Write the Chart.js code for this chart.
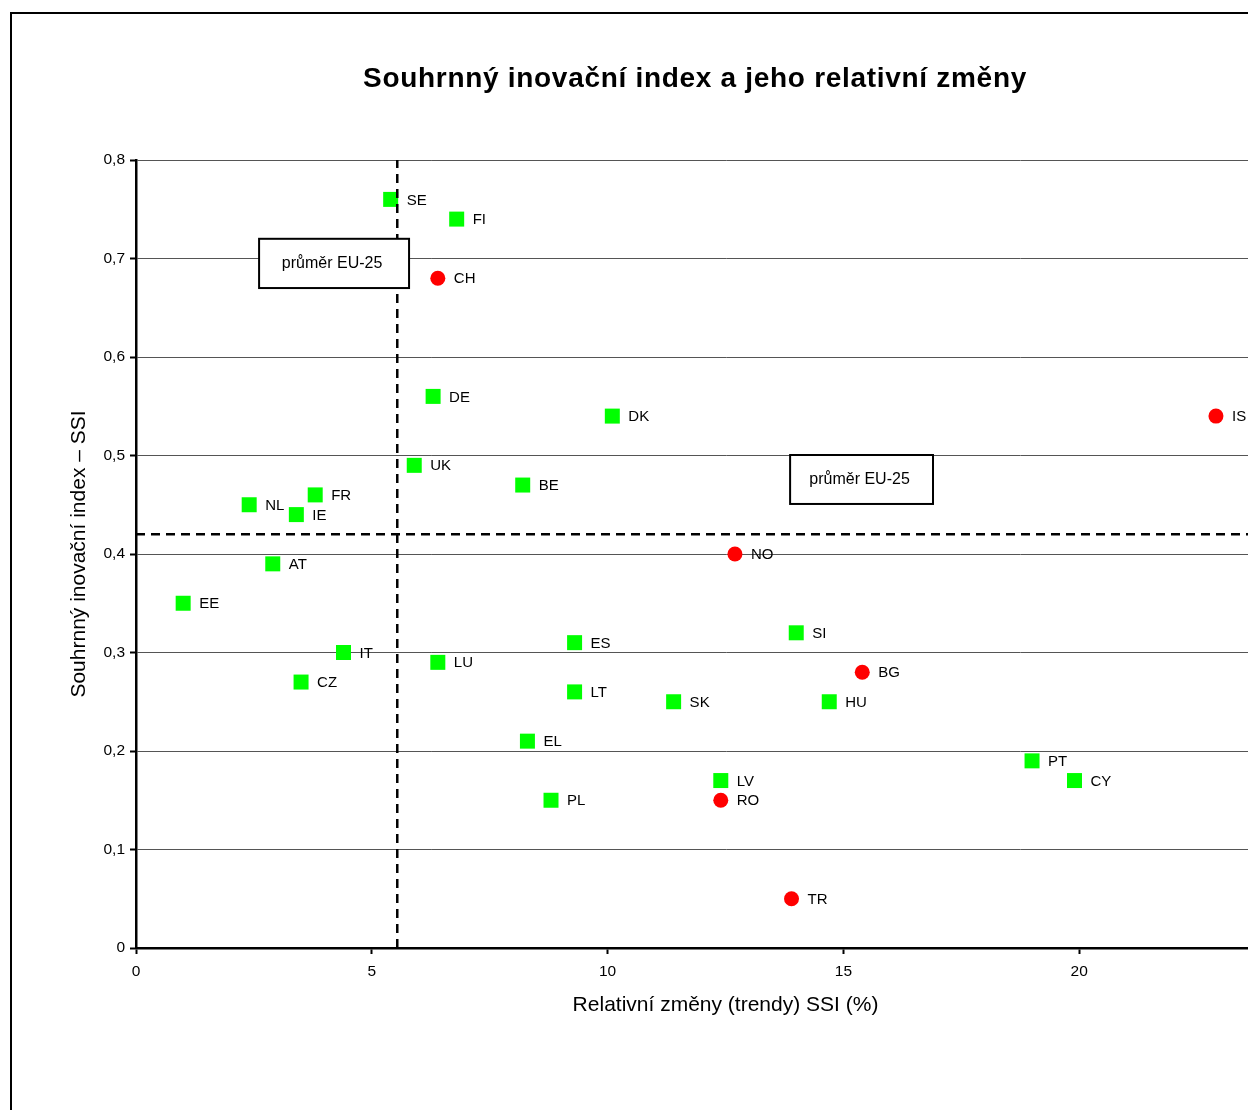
<!DOCTYPE html>
<html>
<head>
<meta charset="utf-8">
<script src="https://cdn.jsdelivr.net/npm/chart.js@4/dist/chart.umd.min.js"></script>
<style>
  html, body { margin: 0; padding: 0; background: #fff; overflow: hidden; width: 1248px; height: 1110px; }
  #frame { position: absolute; left: 10px; top: 12px; width: 1400px; height: 1200px; border: 2px solid #000; box-sizing: border-box; }
  #wrap { position: absolute; left: 0; top: 0; width: 1389px; height: 1110px; }
</style>
</head>
<body>
<div id="frame"></div>
<div id="wrap"><canvas id="c" width="1389" height="1110"></canvas></div>
<script>
// Countries in the EU-25 (green squares)
const euCountries = ['SE','FI','DE','DK','UK','BE','FR','NL','IE','AT','EE','SI','ES','IT','LU','CZ','LT','SK','HU','EL','PT','LV','CY','PL'];
const euTrend =     [5.4, 6.8, 6.3, 10.1, 5.9, 8.2, 3.8, 2.4, 3.4, 2.9, 1.0, 14.0, 9.3, 4.4, 6.4, 3.5, 9.3, 11.4, 14.7, 8.3, 19.0, 12.4, 19.9, 8.8];
const euSSI =       [0.76,0.74,0.56,0.54,0.49,0.47,0.46,0.45,0.44,0.39,0.35,0.32,0.31,0.30,0.29,0.27,0.26,0.25,0.25,0.21,0.19,0.17,0.17,0.15];

// Other countries (red circles)
const otherCountries = ['CH','IS','NO','BG','RO','TR'];
const otherTrend =     [6.4, 22.9, 12.7, 15.4, 12.4, 13.9];
const otherSSI =       [0.68, 0.54, 0.40, 0.28, 0.15, 0.05];

// EU-25 averages
const avgTrend = 5.54;
const avgSSI = 0.42;

// Axis ranges / ticks
const xMin = 0, xMax = 25, xStep = 5;
const yMin = 0, yMax = 0.8, yStep = 0.1;

const avgLabel = 'průměr EU-25';
const titleText = 'Souhrnný inovační index a jeho relativní změny';
const xTitle = 'Relativní změny (trendy) SSI (%)';
const yTitle = 'Souhrnný inovační index – SSI';

const FONT = "'Liberation Sans', Arial, sans-serif";

const toPts = (xs, ys) => xs.map((x, i) => ({ x: x, y: ys[i] }));

const pointLabels = {
  id: 'pointLabels',
  afterDatasetsDraw(chart) {
    const ctx = chart.ctx;
    ctx.save();
    ctx.font = '15px ' + FONT;
    ctx.fillStyle = '#000';
    ctx.textBaseline = 'middle';
    ctx.textAlign = 'left';
    chart.data.datasets.forEach((ds, di) => {
      if (!ds.pointNames) return;
      const meta = chart.getDatasetMeta(di);
      meta.data.forEach((el, i) => {
        ctx.fillText(ds.pointNames[i], el.x + 16, el.y + 1);
      });
    });
    ctx.restore();
  }
};

const avgBoxes = {
  id: 'avgBoxes',
  afterDatasetsDraw(chart, args, opts) {
    const ctx = chart.ctx;
    const xs = chart.scales.x, ys = chart.scales.y;
    ctx.save();
    opts.boxes.forEach(b => {
      const x1 = xs.getPixelForValue(b.x0), x2 = xs.getPixelForValue(b.x1);
      const y1 = ys.getPixelForValue(b.y0), y2 = ys.getPixelForValue(b.y1);
      ctx.fillStyle = '#fff';
      ctx.fillRect(x1, y1, x2 - x1, y2 - y1);
      ctx.lineWidth = 2;
      ctx.strokeStyle = '#000';
      ctx.strokeRect(x1, y1, x2 - x1, y2 - y1);
      ctx.fillStyle = '#000';
      ctx.font = '16px ' + FONT;
      ctx.textAlign = 'center';
      ctx.textBaseline = 'middle';
      ctx.fillText(avgLabel, (x1 + x2) / 2 - 2, (y1 + y2) / 2);
    });
    ctx.restore();
  }
};

const mainTitle = {
  id: 'mainTitle',
  afterDraw(chart, args, opts) {
    const ctx = chart.ctx;
    ctx.save();
    ctx.font = 'bold 28px ' + FONT;
    if ('letterSpacing' in ctx) ctx.letterSpacing = '0.7px';
    ctx.fillStyle = '#000';
    ctx.textAlign = 'center';
    ctx.textBaseline = 'middle';
    ctx.fillText(titleText, opts.cx, opts.cy);
    ctx.restore();
  }
};

new Chart(document.getElementById('c'), {
  type: 'scatter',
  data: {
    datasets: [
      {
        type: 'line',
        data: [{ x: avgTrend, y: yMin }, { x: avgTrend, y: yMax }],
        borderColor: '#000', borderWidth: 2.5, borderDash: [9, 6],
        pointRadius: 0, fill: false
      },
      {
        type: 'line',
        data: [{ x: xMin, y: avgSSI }, { x: xMax, y: avgSSI }],
        borderColor: '#000', borderWidth: 2.5, borderDash: [9, 6],
        pointRadius: 0, fill: false
      },
      {
        data: toPts(euTrend, euSSI),
        pointNames: euCountries,
        pointStyle: 'rect', pointRadius: 10.6, pointBorderWidth: 0,
        backgroundColor: '#00ff00', borderColor: '#00ff00'
      },
      {
        data: toPts(otherTrend, otherSSI),
        pointNames: otherCountries,
        pointStyle: 'circle', pointRadius: 7.5, pointBorderWidth: 0,
        backgroundColor: '#ff0000', borderColor: '#ff0000'
      }
    ]
  },
  options: {
    responsive: false,
    animation: false,
    events: [],
    layout: { padding: { left: 0, right: 74, top: 160, bottom: 0 } },
    plugins: {
      legend: { display: false },
      tooltip: { enabled: false },
      title: { display: false },
      mainTitle: { cx: 695, cy: 79 },
      avgBoxes: {
        boxes: [
          { x0: 2.61, x1: 5.79, y0: 0.720, y1: 0.670 },
          { x0: 13.87, x1: 16.9, y0: 0.5005, y1: 0.4508 }
        ]
      }
    },
    scales: {
      x: {
        type: 'linear', min: xMin, max: xMax,
        afterFit: s => { s.height = 162; },
        ticks: { stepSize: xStep, color: '#000', font: { family: FONT, size: 15.5 }, padding: 8, maxRotation: 0 },
        grid: { drawOnChartArea: false, drawTicks: true, tickLength: 6, tickColor: '#000', tickWidth: 2 },
        border: { color: '#000', width: 2.5 },
        title: { display: true, text: xTitle, color: '#000', font: { family: FONT, size: 21, lineHeight: 1.2 }, padding: { top: 0, bottom: 92 } }
      },
      y: {
        type: 'linear', min: yMin, max: yMax,
        afterFit: s => { s.width = 136; },
        ticks: {
          stepSize: yStep, color: '#000', font: { family: FONT, size: 15.5 }, padding: 5,
          callback: v => (Math.abs(v) < 1e-9 ? '0' : v.toFixed(1).replace('.', ','))
        },
        grid: { color: '#555', lineWidth: 1, drawTicks: true, tickLength: 6, tickColor: '#000', tickWidth: 2 },
        border: { color: '#000', width: 2.5 },
        title: { display: true, text: yTitle, color: '#000', font: { family: FONT, size: 21, lineHeight: 1.2 }, padding: { top: 67, bottom: 0 } }
      }
    }
  },
  plugins: [pointLabels, avgBoxes, mainTitle]
});
</script>
</body>
</html>
